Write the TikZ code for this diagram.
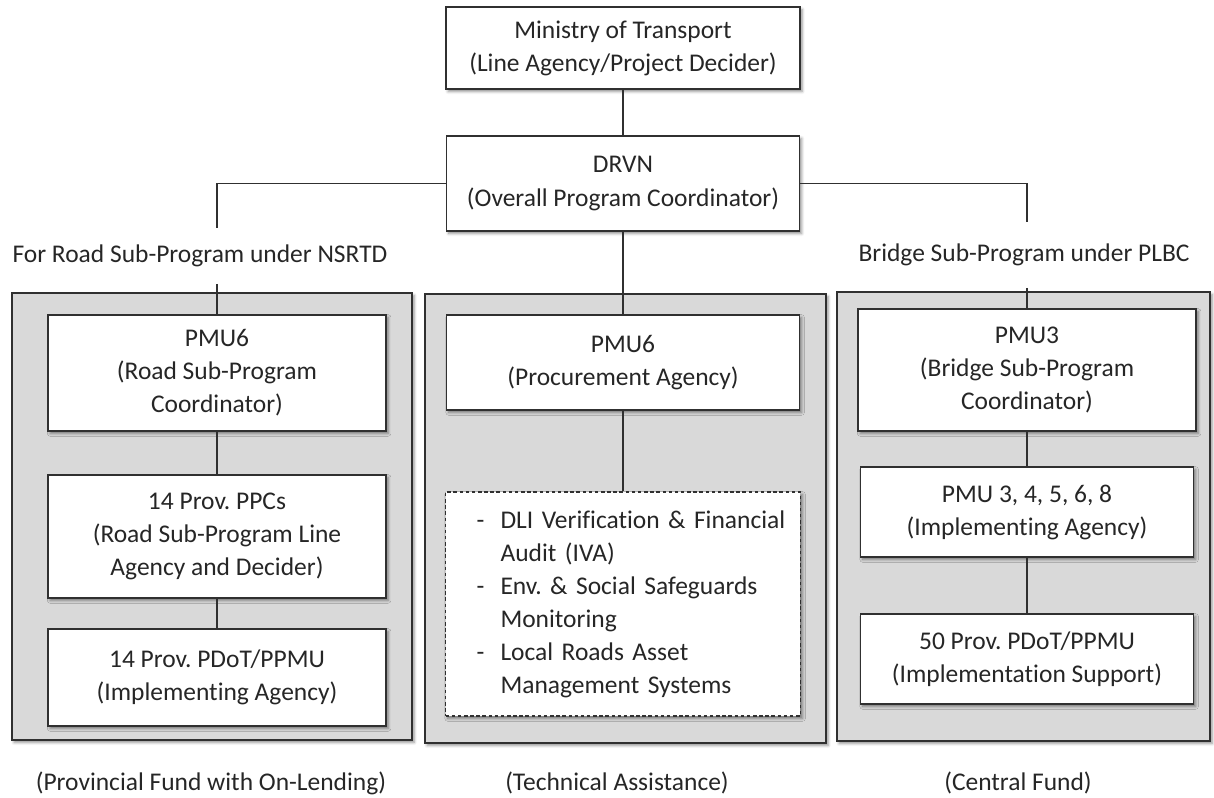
\documentclass[tikz,border=0pt]{standalone}
\usepackage{fontspec}
\setmainfont{Carlito}[Ligatures=NoCommon]
\usetikzlibrary{shadows.blur}
\definecolor{linecol}{HTML}{303030}
\definecolor{panelgray}{HTML}{D9D9D9}
\definecolor{textcol}{HTML}{262626}
\newcommand{\tadash}{\hspace*{0.62cm}\makebox[0.48cm][l]{-}}
\newcommand{\taindent}{\hspace*{1.1cm}}

\begin{document}
\begin{tikzpicture}[x=0.02cm, y=-0.02cm,
    every node/.style={font=\fontsize{14.5}{18.8}\selectfont\frenchspacing, text=textcol},
    softshadow/.style={blur shadow={shadow xshift=1.2pt, shadow yshift=-1.4pt, shadow blur radius=1.6pt, shadow opacity=45}},
    unit/.style={draw=linecol, fill=white, line width=0.8pt, align=center, inner sep=0pt, softshadow},
    panel/.style={draw=linecol, fill=panelgray, line width=0.8pt, inner sep=0pt, softshadow},
    conn/.style={draw=linecol, line width=0.8pt}]
    \useasboundingbox (0,0) rectangle (1214,798);

    % 枠
    \node[panel, minimum width=8cm, minimum height=8.94cm] (lpanel) at (212,516.5) {};
    \node[panel, minimum width=8.02cm, minimum height=8.98cm] (mpanel) at (625.5,518.5) {};
    \node[panel, minimum width=7.46cm, minimum height=8.98cm] (rpanel) at (1023.5,516.5) {};

    % 上の箱
    \node[unit, minimum width=7.08cm, minimum height=1.64cm] (mot) at (623,48) {Ministry of Transport\\(Line Agency/Project Decider)};
    \node[unit, minimum width=7.06cm, minimum height=1.9cm] (drvn) at (623,183.5) {DRVN\\(Overall Program Coordinator)};

    \node[minimum height=1.1cm, inner sep=0pt] (roadlbl) at (200,256) {For Road Sub-Program under NSRTD};
    \node[minimum height=1.3cm, inner sep=0pt] (bridgelbl) at (1024,255) {Bridge Sub-Program under PLBC};

    % 左
    \node[unit, minimum width=6.76cm, minimum height=2.32cm] (pmuroad) at (217,373) {PMU6\\(Road Sub-Program\\Coordinator)};
    \node[unit, minimum width=6.76cm, minimum height=2.46cm] (ppc) at (217,536.5) {14 Prov. PPCs\\(Road Sub-Program Line\\Agency and Decider)};
    \node[unit, minimum width=6.76cm, minimum height=1.94cm] (pdotroad) at (217,677.5) {14 Prov. PDoT/PPMU\\(Implementing Agency)};

    % 中
    \node[unit, minimum width=7.06cm, minimum height=1.9cm] (pmuproc) at (623,362.5) {PMU6\\(Procurement Agency)};
    \node[unit, dashed, dash pattern=on 2pt off 1.5pt, minimum width=7.1cm, minimum height=4.48cm,
          text width=7.1cm, align=left] (tasks) at (623,604)
        {\tadash DLI Verification \& Financial\\
         \taindent Audit (IVA)\\
         \tadash Env. \& Social Safeguards\\
         \taindent Monitoring\\
         \tadash Local Roads Asset\\
         \taindent Management Systems};

    % 右
    \node[unit, minimum width=6.76cm, minimum height=2.44cm] (pmubridge) at (1027,370) {PMU3\\(Bridge Sub-Program\\Coordinator)};
    \node[unit, minimum width=6.66cm, minimum height=1.8cm] (pmuimpl) at (1027,512) {PMU 3, 4, 5, 6, 8\\(Implementing Agency)};
    \node[unit, minimum width=6.66cm, minimum height=1.8cm] (pdotcentral) at (1027,659) {50 Prov. PDoT/PPMU\\(Implementation Support)};

    % 下の文字
    \node (fundprov) at (211,783) {(Provincial Fund with On-Lending)};
    \node (fundta) at (617,783) {(Technical Assistance)};
    \node (fundcentral) at (1018,783) {(Central Fund)};

    % 線を引く
    \draw[conn] (mot) -- (drvn);
    \draw[conn] (drvn.west) -| (pmuroad.north |- roadlbl.north);
    \draw[conn] (pmuroad.north |- roadlbl.south) -- (pmuroad);
    \draw[conn] (drvn.east) -| (pmubridge.north |- bridgelbl.north);
    \draw[conn] (pmubridge.north |- bridgelbl.south) -- (pmubridge);
    \draw[conn] (drvn) -- (pmuproc);
    \draw[conn] (pmuproc) -- (tasks);
    \draw[conn] (pmuroad) -- (ppc);
    \draw[conn] (ppc) -- (pdotroad);
    \draw[conn] (pmubridge) -- (pmuimpl);
    \draw[conn] (pmuimpl) -- (pdotcentral);

\end{tikzpicture}
\end{document}
